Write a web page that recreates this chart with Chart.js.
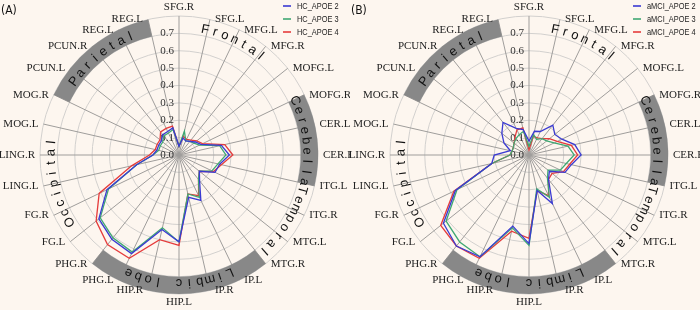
<!DOCTYPE html>
<html>
<head>
<meta charset="utf-8">
<script src="https://cdn.jsdelivr.net/npm/chart.js@4/dist/chart.umd.min.js"></script>
<style>
  html, body { margin: 0; padding: 0; background: #fdf6ef; }
  #wrap { width: 700px; height: 310px; display: flex; }
  canvas { display: block; }
</style>
</head>
<body>
<div id="wrap">
  <canvas id="chartA" width="350" height="310"></canvas>
  <canvas id="chartB" width="350" height="310"></canvas>
</div>
<script>
// brain regions, clockwise from the top
const regions = ['SFG.R', 'SFG.L', 'MFG.L', 'MFG.R', 'MOFG.L', 'MOFG.R', 'CER.L', 'CER.R',
  'ITG.L', 'ITG.R', 'MTG.L', 'MTG.R', 'IP.L', 'IP.R', 'HIP.L', 'HIP.R', 'PHG.L', 'PHG.R',
  'FG.L', 'FG.R', 'LING.L', 'LING.R', 'MOG.L', 'MOG.R', 'PCUN.L', 'PCUN.R', 'REG.L', 'REG.L'];

const tickValues = [0, 0.1, 0.2, 0.3, 0.4, 0.5, 0.6, 0.7];

// lobes: arc runs from spoke lobeStart to spoke lobeEnd
const lobeNames = ['Frontal', 'Cerebella', 'Temporal', 'Limbic lobe', 'Occipital', 'Parietal'];
const lobeStart = [27, 5, 8, 11, 17, 23];
const lobeEnd = [5, 8, 11, 17, 23, 27];

// (A) healthy controls
const hcNames = ['HC_APOE 2', 'HC_APOE 3', 'HC_APOE 4'];
const hcApoe2 = [0.05, 0.10, 0.09, 0.10, 0.12, 0.14, 0.25, 0.29, 0.24, 0.23, 0.15, 0.19, 0.29, 0.25,
  0.50, 0.44, 0.63, 0.62, 0.59, 0.46, 0.25, 0.15, 0.13, 0.13, 0.13, 0.15, 0.15, 0.16];
const hcApoe3 = [0.05, 0.14, 0.09, 0.10, 0.11, 0.13, 0.24, 0.27, 0.23, 0.21, 0.15, 0.18, 0.27, 0.23,
  0.50, 0.43, 0.62, 0.61, 0.58, 0.45, 0.25, 0.15, 0.12, 0.12, 0.12, 0.14, 0.14, 0.15];
const hcApoe4 = [0.05, 0.11, 0.10, 0.11, 0.13, 0.15, 0.27, 0.31, 0.25, 0.22, 0.15, 0.18, 0.26, 0.23,
  0.52, 0.50, 0.66, 0.66, 0.61, 0.51, 0.28, 0.17, 0.14, 0.14, 0.14, 0.17, 0.17, 0.17];

// (B) aMCI
const mciNames = ['aMCI_APOE 2', 'aMCI_APOE 3', 'aMCI_APOE 4'];
const mciApoe2 = [0.08, 0.14, 0.15, 0.22, 0.19, 0.21, 0.27, 0.30, 0.25, 0.23, 0.15, 0.18, 0.31, 0.21,
  0.51, 0.42, 0.65, 0.67, 0.63, 0.47, 0.22, 0.20, 0.11, 0.16, 0.20, 0.24, 0.17, 0.15];
const mciApoe3 = [0.05, 0.12, 0.10, 0.12, 0.13, 0.16, 0.23, 0.26, 0.22, 0.20, 0.14, 0.17, 0.27, 0.20,
  0.52, 0.43, 0.65, 0.64, 0.61, 0.46, 0.22, 0.11, 0.10, 0.10, 0.11, 0.12, 0.13, 0.14];
const mciApoe4 = [0.03, 0.11, 0.11, 0.12, 0.15, 0.18, 0.25, 0.28, 0.24, 0.22, 0.17, 0.18, 0.26, 0.21,
  0.48, 0.45, 0.66, 0.67, 0.65, 0.48, 0.22, 0.11, 0.10, 0.10, 0.11, 0.13, 0.16, 0.16];

const colors = ['#3a3ad2', '#3fa873', '#e53b3b'];
const shaded = ['Cerebella', 'Limbic lobe', 'Parietal'];

function decorPlugin(panel, names) {
  return {
    id: 'decor' + panel,
    beforeDatasetsDraw(chart) {
      const s = chart.scales.r;
      const ctx = chart.ctx;
      const cx = s.xCenter, cy = s.yCenter;
      const n = regions.length;
      const ang = i => i * 2 * Math.PI / n - Math.PI / 2;
      const rIn = s.getDistanceFromCenterForValue(0.7);
      const rOut = s.getDistanceFromCenterForValue(0.8);
      const rText = 128;
      ctx.save();
      lobeNames.forEach((name, k) => {
        let a0 = ang(lobeStart[k]);
        let a1 = ang(lobeEnd[k]);
        if (a1 <= a0) a1 += 2 * Math.PI;
        if (shaded.includes(name)) {
          ctx.beginPath();
          ctx.arc(cx, cy, rOut, a0, a1);
          ctx.arc(cx, cy, rIn, a1, a0, true);
          ctx.closePath();
          ctx.fillStyle = '#888888';
          ctx.fill();
        }
        const chars = [...name];
        const stepA = 10.4 / rText;
        const mid = (a0 + a1) / 2;
        const start = mid - (chars.length - 1) / 2 * stepA;
        ctx.font = '13px "Liberation Sans"';
        ctx.fillStyle = '#111';
        ctx.textAlign = 'center';
        ctx.textBaseline = 'middle';
        chars.forEach((ch, j) => {
          const a = start + j * stepA;
          ctx.save();
          ctx.translate(cx + rText * Math.cos(a), cy + rText * Math.sin(a));
          ctx.rotate(a + Math.PI / 2);
          ctx.fillText(ch, 0, 0);
          ctx.restore();
        });
      });

      // radial tick labels, left of the vertical axis
      ctx.font = '11px "Liberation Serif"';
      ctx.fillStyle = '#333';
      ctx.textAlign = 'right';
      ctx.textBaseline = 'middle';
      tickValues.forEach(v => {
        ctx.fillText(v.toFixed(1), cx - 5, cy - s.getDistanceFromCenterForValue(v));
      });
      ctx.restore();
    },
    afterDraw(chart) {
      const s = chart.scales.r;
      const ctx = chart.ctx;
      const outer = s.getDistanceFromCenterForValue(0.8);
      ctx.save();
      ctx.font = '11px "Liberation Serif"';
      ctx.fillStyle = '#222';
      ctx.textBaseline = 'middle';
      regions.forEach((lab, i) => {
        const p = s.getPointPosition(i, outer);
        const deg = i * 360 / regions.length;
        let x = p.x, y = p.y;
        if (deg === 0) { ctx.textAlign = 'center'; y -= 9; }
        else if (deg === 180) { ctx.textAlign = 'center'; y += 8; }
        else if (deg < 180) { ctx.textAlign = 'left'; x += 5; }
        else { ctx.textAlign = 'right'; x -= 5; }
        ctx.fillText(lab, x, y);
      });

      // legend, top right (narrow lettering)
      ctx.textAlign = 'left';
      names.forEach((nm, k) => {
        const y = 6 + k * 13;
        ctx.strokeStyle = colors[k];
        ctx.lineWidth = 1.6;
        ctx.beginPath();
        ctx.moveTo(283, y);
        ctx.lineTo(291, y);
        ctx.stroke();
        ctx.save();
        ctx.translate(297, y + 0.5);
        ctx.scale(0.78, 1);
        ctx.font = '9.5px "Liberation Sans"';
        ctx.fillStyle = '#222';
        ctx.fillText(nm, 0, 0);
        ctx.restore();
      });

      // panel letter
      ctx.font = '12px "DejaVu Sans Condensed"';
      ctx.fillStyle = '#111';
      ctx.fillText('(' + panel + ')', 1, 11);
      ctx.restore();
    }
  };
}

function makeChart(id, panel, names, series) {
  return new Chart(document.getElementById(id), {
    type: 'radar',
    data: {
      labels: regions,
      datasets: series.map((vals, k) => ({
        label: names[k],
        data: vals,
        borderColor: colors[k],
        borderWidth: 1.3,
        fill: false,
        pointRadius: 0,
        tension: 0,
      })),
    },
    options: {
      responsive: false,
      animation: false,
      devicePixelRatio: 1,
      layout: { padding: { left: 40, right: 32, top: 16, bottom: 16 } },
      plugins: {
        legend: { display: false },
        tooltip: { enabled: false },
      },
      scales: {
        r: {
          min: 0,
          max: 0.8,
          ticks: { display: false, stepSize: 0.1 },
          grid: { circular: true, color: '#d2d0ce', lineWidth: 1 },
          angleLines: { color: '#9f9d9b', lineWidth: 1 },
          pointLabels: { display: false },
        },
      },
    },
    plugins: [decorPlugin(panel, names)],
  });
}

makeChart('chartA', 'A', hcNames, [hcApoe2, hcApoe3, hcApoe4]);
makeChart('chartB', 'B', mciNames, [mciApoe2, mciApoe3, mciApoe4]);
</script>
</body>
</html>
